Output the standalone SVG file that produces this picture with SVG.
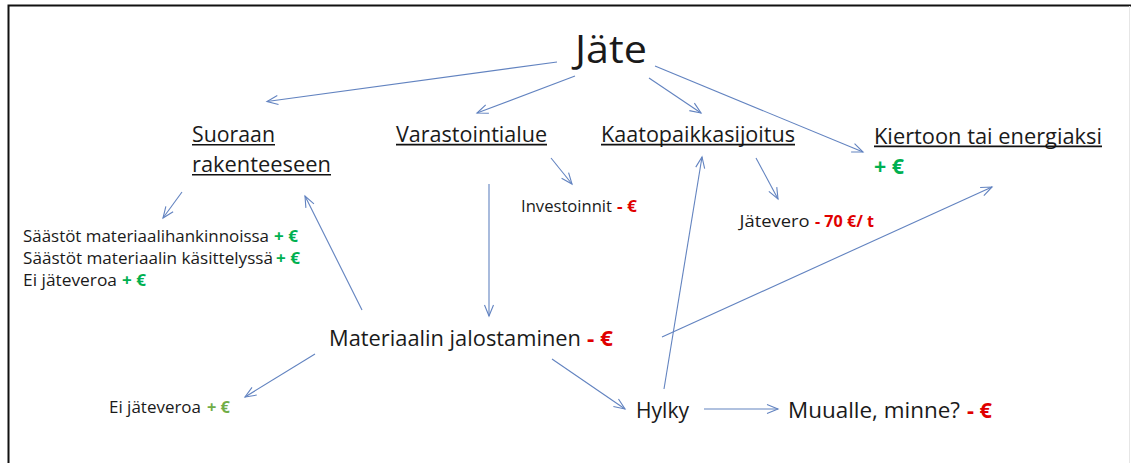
<svg xmlns="http://www.w3.org/2000/svg" width="1131" height="463" viewBox="0 0 1131 463">
<style>
text{font-family:"Open Sans","Liberation Sans",sans-serif;fill:#1a1a1a}
.big{font-size:39px}
.h{font-size:21.5px}
.m{font-size:21.5px}
.s{font-size:16.8px}
.red{fill:#e00000;font-weight:bold}
.grn{fill:#00b050;font-weight:bold}
.olv{fill:#70ad47;font-weight:bold}
.ul{stroke:#111;stroke-width:1.6}
.c{stroke:#6283c0;stroke-width:1.1;fill:none;marker-end:url(#ah)}
</style>
<defs>
<marker id="ah" markerUnits="userSpaceOnUse" markerWidth="14" markerHeight="12" refX="12" refY="6" orient="auto">
<path d="M1,1.5 L12,6 L1,10.5" fill="none" stroke="#6283c0" stroke-width="1.1"/>
</marker>
</defs>
<rect width="1131" height="463" fill="#fff"/>
<path d="M8.5,470 V5.5 H1131" fill="none" stroke="#111" stroke-width="2"/>
<line x1="1129.5" y1="6" x2="1129.5" y2="463" stroke="#e6e6e6" stroke-width="1"/>

<g id="connectors">
<line class="c" x1="557" y1="62" x2="267" y2="101.5"/>
<line class="c" x1="575" y1="76" x2="477" y2="113"/>
<line class="c" x1="649" y1="78" x2="701" y2="113"/>
<line class="c" x1="655" y1="66" x2="863" y2="152"/>
<line class="c" x1="182" y1="192" x2="163" y2="218"/>
<line class="c" x1="362" y1="310" x2="305" y2="196"/>
<line class="c" x1="551" y1="158" x2="572" y2="184"/>
<line class="c" x1="489" y1="184" x2="489" y2="316"/>
<line class="c" x1="756" y1="158" x2="778" y2="199"/>
<line class="c" x1="664" y1="389" x2="702" y2="157"/>
<line class="c" x1="662" y1="337" x2="992" y2="187"/>
<line class="c" x1="315" y1="354" x2="245" y2="397"/>
<line class="c" x1="552" y1="359" x2="625" y2="409"/>
<line class="c" x1="704" y1="409" x2="778" y2="409"/>
</g>

<g id="jate">
<text class="big" x="575" y="63" textLength="72" lengthAdjust="spacingAndGlyphs">Jäte</text>
</g>

<g id="suoraan">
<text class="h" x="192" y="142" textLength="83" lengthAdjust="spacingAndGlyphs">Suoraan</text>
<text class="h" x="192" y="171.5" textLength="139" lengthAdjust="spacingAndGlyphs">rakenteeseen</text>
<line class="ul" x1="192" y1="144.8" x2="275" y2="144.8"/>
<line class="ul" x1="192" y1="174.8" x2="331" y2="174.8"/>
</g>

<g id="varastointialue">
<text class="h" x="396" y="141.7" textLength="151" lengthAdjust="spacingAndGlyphs">Varastointialue</text>
<line class="ul" x1="396" y1="144.6" x2="547" y2="144.6"/>
</g>

<g id="kaatopaikkasijoitus">
<text class="h" x="601" y="141.7" textLength="194" lengthAdjust="spacingAndGlyphs">Kaatopaikkasijoitus</text>
<line class="ul" x1="601" y1="144.6" x2="795" y2="144.6"/>
</g>

<g id="kiertoon">
<text class="h" x="874" y="143.5" textLength="228" lengthAdjust="spacingAndGlyphs">Kiertoon tai energiaksi</text>
<line class="ul" x1="874" y1="146.4" x2="1102" y2="146.4"/>
<text class="h grn" x="874" y="173.5" textLength="30" lengthAdjust="spacingAndGlyphs">+ €</text>
</g>

<g id="saastot">
<text class="s" x="23" y="242" textLength="246" lengthAdjust="spacingAndGlyphs">Säästöt materiaalihankinnoissa</text>
<text class="s grn" x="274" y="242" textLength="24" lengthAdjust="spacingAndGlyphs">+ €</text>
<text class="s" x="23" y="264" textLength="250" lengthAdjust="spacingAndGlyphs">Säästöt materiaalin käsittelyssä</text>
<text class="s grn" x="276" y="264" textLength="24" lengthAdjust="spacingAndGlyphs">+ €</text>
<text class="s" x="23" y="286" textLength="94" lengthAdjust="spacingAndGlyphs">Ei jäteveroa</text>
<text class="s grn" x="122" y="286" textLength="24" lengthAdjust="spacingAndGlyphs">+ €</text>
</g>

<g id="investoinnit">
<text class="s" x="521" y="212.3" textLength="91" lengthAdjust="spacingAndGlyphs">Investoinnit</text>
<text class="s red" x="617" y="212.3" textLength="20" lengthAdjust="spacingAndGlyphs">- €</text>
</g>

<g id="jatevero">
<text class="s" x="739.5" y="226.7" textLength="70" lengthAdjust="spacingAndGlyphs">Jätevero</text>
<text class="s red" x="815" y="226.7" textLength="59" lengthAdjust="spacingAndGlyphs">- 70 €/ t</text>
</g>

<g id="materiaalin">
<text class="m" x="329" y="345.7" textLength="252" lengthAdjust="spacingAndGlyphs">Materiaalin jalostaminen</text>
<text class="m red" x="587" y="345.7" textLength="26" lengthAdjust="spacingAndGlyphs">- €</text>
</g>

<g id="ei-jateveroa">
<text class="s" x="109" y="412.7" textLength="92" lengthAdjust="spacingAndGlyphs">Ei jäteveroa</text>
<text class="s olv" x="207" y="412.7" textLength="23" lengthAdjust="spacingAndGlyphs">+ €</text>
</g>

<g id="hylky">
<text class="m" x="636" y="418.3" textLength="53" lengthAdjust="spacingAndGlyphs">Hylky</text>
</g>

<g id="muualle">
<text class="m" x="788" y="418.3" textLength="172" lengthAdjust="spacingAndGlyphs">Muualle, minne?</text>
<text class="m red" x="967" y="418.3" textLength="25" lengthAdjust="spacingAndGlyphs">- €</text>
</g>
</svg>
